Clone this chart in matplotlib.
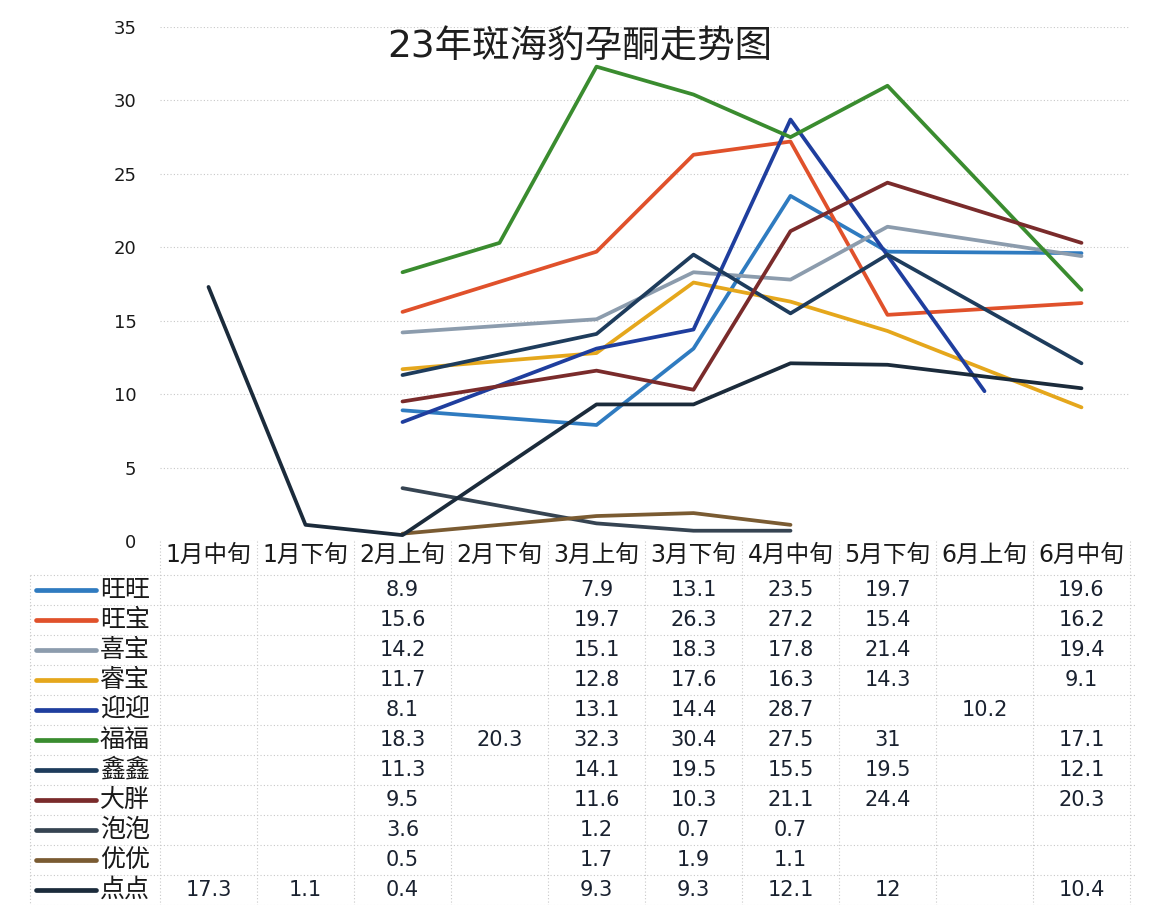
import numpy as np
import matplotlib
matplotlib.use("Agg")
import matplotlib.pyplot as plt
from matplotlib.transforms import blended_transform_factory

plt.rcParams['font.family'] = ['DejaVu Sans', 'Noto Sans CJK SC']

title = "23年斑海豹孕酮走势图"
categories = ["1月中旬", "1月下旬", "2月上旬", "2月下旬", "3月上旬", "3月下旬",
              "4月中旬", "5月下旬", "6月上旬", "6月中旬"]
N = None
names = ["旺旺", "旺宝", "喜宝", "睿宝", "迎迎", "福福", "鑫鑫", "大胖", "泡泡", "优优", "点点"]
wangwang = [N, N, 8.9, N, 7.9, 13.1, 23.5, 19.7, N, 19.6]
wangbao  = [N, N, 15.6, N, 19.7, 26.3, 27.2, 15.4, N, 16.2]
xibao    = [N, N, 14.2, N, 15.1, 18.3, 17.8, 21.4, N, 19.4]
ruibao   = [N, N, 11.7, N, 12.8, 17.6, 16.3, 14.3, N, 9.1]
yingying = [N, N, 8.1, N, 13.1, 14.4, 28.7, N, 10.2, N]
fufu     = [N, N, 18.3, 20.3, 32.3, 30.4, 27.5, 31, N, 17.1]
xinxin   = [N, N, 11.3, N, 14.1, 19.5, 15.5, 19.5, N, 12.1]
dapang   = [N, N, 9.5, N, 11.6, 10.3, 21.1, 24.4, N, 20.3]
paopao   = [N, N, 3.6, N, 1.2, 0.7, 0.7, N, N, N]
youyou   = [N, N, 0.5, N, 1.7, 1.9, 1.1, N, N, N]
diandian = [17.3, 1.1, 0.4, N, 9.3, 9.3, 12.1, 12, N, 10.4]
series = [wangwang, wangbao, xibao, ruibao, yingying, fufu, xinxin, dapang, paopao, youyou, diandian]
colors = ["#2F7BC0", "#E0512B", "#8C9CAD", "#E5A71C", "#1F3E9E", "#3A8C2F",
          "#1E3C5C", "#7A2B2B", "#364452", "#7A5B32", "#1B2B3B"]

W, H = 1149, 905
fig = plt.figure(figsize=(W / 100, H / 100), dpi=100)
fig.patch.set_facecolor("white")

left_px, right_px, top_px, bot_px = 160, 1130, 27, 541
ax = fig.add_axes([left_px / W, 1 - bot_px / H, (right_px - left_px) / W, (bot_px - top_px) / H])
ax.set_xlim(-0.5, len(categories) - 0.5)
ax.set_ylim(0, 35)
ax.set_yticks(np.arange(0, 36, 5))
ax.set_xticks([])
for s in ax.spines.values():
    s.set_visible(False)
ax.tick_params(axis='y', length=0, labelsize=13, pad=17, labelcolor="#1a1a1a")
ax.yaxis.grid(True, color="#c8c8c8", linestyle=(0, (1, 2)), linewidth=0.8)
ax.set_axisbelow(True)

x = np.arange(len(categories))
for vals, col in zip(series, colors):
    xs = [xi for xi, v in zip(x, vals) if v is not None]
    ys = [v for v in vals if v is not None]
    ax.plot(xs, ys, color=col, linewidth=2.7, solid_capstyle='round', zorder=3)

fig.text(580 / W, 1 - 47 / H, title, ha='center', va='center', fontsize=27,
         color="#1e1e1e")

# data table
trans = blended_transform_factory(ax.transData, fig.transFigure)
transpx = lambda px: 1 - px / H
header_y = 555
row0 = 590
rowh = 30
for i, c in enumerate(categories):
    ax.text(i, transpx(header_y), c, transform=trans, ha='center', va='center',
            fontsize=17, color="#1a1a1a", clip_on=False)

# grid lines of table
grid_kw = dict(color="#c8c8c8", linestyle=(0, (1, 2)), linewidth=0.8, clip_on=False)
for b in np.arange(-0.5, len(categories) + 0.5, 1):
    ax.plot([b, b], [transpx(541), transpx(905)], transform=trans, **grid_kw)
for r in range(len(names) + 1):
    yline = row0 - rowh / 2 + r * rowh
    fig.add_artist(plt.Line2D([30 / W, 1135 / W], [transpx(yline), transpx(yline)],
                              transform=fig.transFigure, **grid_kw))
fig.add_artist(plt.Line2D([30 / W, 30 / W], [transpx(575), transpx(905)],
                          transform=fig.transFigure, **grid_kw))

for r, (nm, vals, col) in enumerate(zip(names, series, colors)):
    yy = transpx(row0 + r * rowh)
    fig.add_artist(plt.Line2D([36 / W, 96 / W], [yy, yy], transform=fig.transFigure,
                              color=col, linewidth=3.4, solid_capstyle='round'))
    fig.text(100 / W, yy, nm, ha='left', va='center', fontsize=18, color="#1a1a1a")
    for i, v in enumerate(vals):
        if v is not None:
            ax.text(i, yy, f"{v:g}", transform=trans, ha='center', va='center',
                    fontsize=15, color="#1a2230", clip_on=False)

fig.savefig("out.png", dpi=100, facecolor="white")
